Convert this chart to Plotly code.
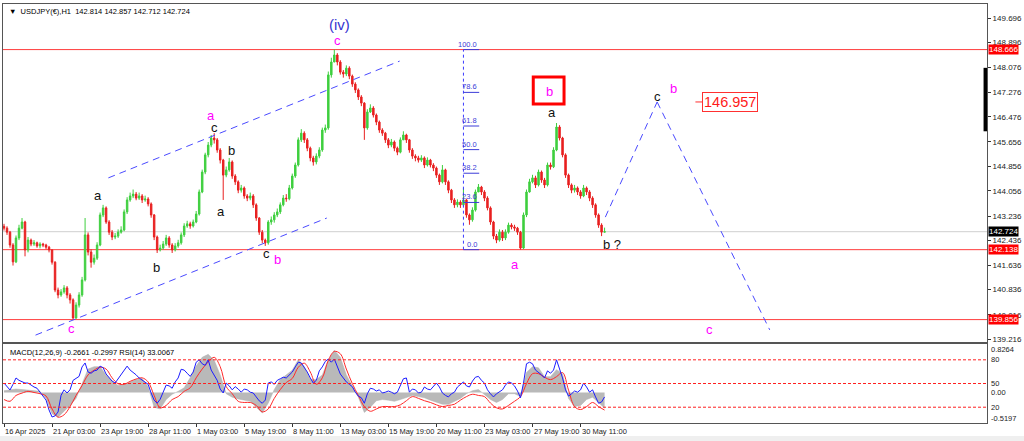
import plotly.graph_objects as go

# ---------------- data ----------------
bar_hours = list(range(0, 801, 4))          # hourly bar index of each plotted candle
first_open = 142.90
closes = [
    142.84, 142.71, 142.29, 141.74, 142.52, 142.84, 143.04, 142.13, 142.45, 142.32,
    142.36, 142.26, 142.32, 142.29, 142.22, 142.13, 141.73, 140.82, 140.66, 140.76,
    140.89, 140.66, 140.50, 139.91, 140.33, 140.66, 141.15, 142.62, 142.06, 141.73,
    141.86, 142.29, 143.27, 143.50, 143.04, 142.71, 142.55, 142.58, 142.71, 142.78,
    143.37, 143.76, 143.89, 143.95, 143.82, 143.89, 143.76, 143.79, 143.63, 143.27,
    142.55, 142.13, 142.19, 142.32, 142.52, 142.29, 142.13, 142.26, 142.36, 142.62,
    142.91, 142.98, 142.91, 143.04, 143.30, 144.02, 144.67, 145.23, 145.55, 145.78,
    145.72, 145.39, 145.06, 144.57, 144.74, 145.00, 144.54, 144.35, 144.08, 144.15,
    143.89, 143.82, 143.89, 143.60, 143.17, 142.71, 142.45, 142.36, 143.04, 143.11,
    143.27, 143.37, 143.60, 143.82, 143.80, 144.15, 144.54, 144.90, 145.72, 145.94,
    145.72, 145.45, 145.13, 145.00, 145.19, 145.39, 146.04, 146.11, 147.84, 148.26,
    148.49, 148.26, 147.93, 147.87, 148.06, 147.80, 147.54, 147.35, 147.12, 146.92,
    146.11, 146.63, 146.76, 146.53, 146.30, 146.04, 145.94, 145.72, 145.55, 145.65,
    145.45, 145.32, 145.72, 145.88, 145.72, 145.39, 145.19, 145.13, 145.06, 145.13,
    144.90, 145.06, 144.90, 144.80, 144.57, 144.35, 144.74, 144.35, 144.08, 143.76,
    143.60, 143.69, 143.60, 143.76, 143.27, 143.11, 143.43, 144.02, 144.18, 144.02,
    143.82, 143.50, 143.04, 142.58, 142.45, 142.71, 142.52, 142.71, 142.94, 142.88,
    142.84, 142.71, 142.19, 143.27, 144.02, 144.35, 144.48, 144.25, 144.67, 144.41,
    144.25, 144.90, 144.84, 145.39, 146.14, 145.78, 145.23, 144.57, 144.25, 144.08,
    144.15, 144.02, 143.89, 144.15, 144.02, 143.82, 143.60, 143.27, 142.94, 142.71,
    142.724,
]
highs = [
    142.98, 142.90, 142.75, 142.35, 142.60, 142.95, 143.17, 143.08, 142.55, 142.50,
    142.45, 142.40, 142.38, 142.36, 142.33, 142.26, 142.15, 141.76, 140.90, 140.85,
    140.98, 140.95, 140.72, 140.55, 140.42, 140.75, 141.25, 143.17, 142.70, 142.15,
    141.98, 142.38, 143.35, 143.60, 143.55, 143.10, 142.78, 142.68, 142.80, 142.90,
    143.45, 143.85, 144.00, 144.10, 144.02, 144.00, 143.95, 143.90, 143.85, 143.68,
    143.30, 142.60, 142.30, 142.42, 142.62, 142.58, 142.35, 142.35, 142.46, 142.70,
    143.00, 143.08, 143.05, 143.12, 143.40, 144.10, 144.75, 145.30, 145.65, 145.88,
    145.94, 145.78, 145.45, 145.10, 144.85, 145.13, 145.05, 144.60, 144.40, 144.25,
    144.20, 143.95, 144.00, 143.95, 143.65, 143.20, 142.78, 142.50, 143.10, 143.22,
    143.36, 143.48, 143.68, 143.92, 143.95, 144.25, 144.62, 144.98, 145.80, 146.07,
    146.00, 145.78, 145.50, 145.20, 145.28, 145.48, 146.12, 146.22, 147.95, 148.40,
    148.67, 148.55, 148.32, 148.00, 148.15, 148.12, 147.85, 147.60, 147.40, 147.18,
    146.95, 146.72, 146.88, 146.82, 146.58, 146.35, 146.10, 145.98, 145.78, 145.75,
    145.70, 145.50, 145.80, 146.00, 145.92, 145.75, 145.45, 145.25, 145.20, 145.22,
    145.18, 145.15, 145.10, 144.96, 144.85, 144.62, 144.90, 144.78, 144.40, 144.12,
    143.82, 143.78, 143.75, 144.14, 143.80, 143.32, 143.52, 144.10, 144.28, 144.22,
    144.08, 143.88, 143.55, 143.08, 142.65, 142.80, 142.78, 142.80, 143.02, 143.00,
    142.95, 142.88, 142.75, 143.35, 144.10, 144.45, 144.58, 144.55, 144.75, 144.72,
    144.48, 144.98, 144.98, 145.48, 146.27, 146.20, 145.82, 145.28, 144.62, 144.30,
    144.25, 144.20, 144.08, 144.25, 144.20, 144.08, 143.88, 143.65, 143.32, 143.00,
    142.857,
]
lows = [
    142.76, 142.62, 142.20, 141.62, 141.70, 142.45, 142.80, 141.92, 142.05, 142.25,
    142.26, 142.20, 142.18, 142.22, 142.15, 142.05, 141.65, 140.75, 140.55, 140.60,
    140.70, 140.55, 140.38, 139.86, 139.88, 140.25, 140.60, 141.10, 141.95, 141.55,
    141.65, 141.80, 142.25, 143.20, 142.98, 142.62, 142.45, 142.48, 142.52, 142.66,
    142.74, 143.30, 143.70, 143.82, 143.75, 143.76, 143.66, 143.70, 143.55, 143.18,
    142.45, 142.03, 142.08, 142.14, 142.26, 142.20, 142.03, 142.08, 142.20, 142.30,
    142.55, 142.85, 142.82, 142.86, 143.00, 143.25, 143.98, 144.60, 145.15, 145.48,
    145.60, 145.30, 144.95, 143.76, 144.50, 144.68, 144.45, 144.25, 143.98, 144.00,
    143.80, 143.72, 143.75, 143.50, 143.08, 142.62, 142.35, 142.26, 142.30, 142.95,
    143.02, 143.20, 143.30, 143.55, 143.70, 143.75, 144.10, 144.48, 144.85, 145.65,
    145.62, 145.35, 145.02, 144.88, 144.92, 145.12, 145.33, 145.95, 146.05, 147.75,
    148.35, 148.15, 147.85, 147.75, 147.80, 147.70, 147.45, 147.25, 147.02, 146.82,
    145.72, 146.05, 146.60, 146.45, 146.20, 145.95, 145.85, 145.62, 145.45, 145.48,
    145.35, 145.22, 145.28, 145.80, 145.62, 145.30, 145.10, 145.02, 144.98, 145.00,
    144.80, 144.85, 144.82, 144.70, 144.48, 144.25, 144.30, 144.25, 143.98, 143.66,
    143.50, 143.52, 143.50, 143.55, 143.18, 142.95, 143.05, 143.38, 144.05, 143.92,
    143.72, 143.42, 142.95, 142.48, 142.35, 142.40, 142.42, 142.45, 142.66, 142.80,
    142.75, 142.62, 142.14, 142.15, 143.20, 144.00, 144.30, 144.15, 144.20, 144.32,
    144.15, 144.20, 144.75, 144.80, 145.35, 145.70, 145.15, 144.48, 144.15, 143.98,
    144.00, 143.92, 143.80, 143.85, 143.92, 143.72, 143.50, 143.18, 142.85, 142.58,
    142.712,
]
opens = [first_open] + closes[:-1]

sub_bars = list(range(0, 801, 8))
macd_main = [
    0.03, 0.05, 0.06, 0.05, 0.04, 0.03, 0.02, -0.10, -0.36, -0.42,
    -0.32, -0.22, -0.10, 0.15, 0.40, 0.44, 0.44, 0.30, 0.20, 0.12,
    0.14, 0.18, 0.22, 0.24, 0.10, -0.25, -0.28, -0.12, -0.03, 0.02,
    0.08, 0.25, 0.45, 0.60, 0.65, 0.55, 0.30, -0.02, -0.08, -0.11,
    -0.13, -0.15, -0.25, -0.35, -0.18, 0.05, 0.22, 0.30, 0.38, 0.56,
    0.44, 0.22, 0.22, 0.30, 0.55, 0.72, 0.60, 0.30, 0.10, -0.08,
    -0.34, -0.25, -0.14, -0.12, -0.13, -0.15, -0.12, -0.08, -0.05, -0.07,
    -0.09, -0.13, -0.16, -0.20, -0.20, -0.15, -0.10, -0.02, 0.03, 0.05,
    -0.03, -0.12, -0.17, -0.12, -0.02, -0.02, -0.07, 0.34, 0.44, 0.42,
    0.27, 0.27, 0.39, 0.32, -0.10, -0.24, -0.22, -0.12, -0.08, -0.18,
    -0.2661,
]
macd_signal = [
    -0.12, -0.15, -0.05, -0.01, 0.02, 0.00, -0.02, -0.06, -0.28, -0.42,
    -0.38, -0.24, -0.05, 0.12, 0.30, 0.38, 0.43, 0.40, 0.25, 0.15,
    0.14, 0.19, 0.23, 0.25, 0.18, -0.05, -0.26, -0.22, -0.12, -0.07,
    0.02, 0.08, 0.25, 0.40, 0.52, 0.60, 0.44, 0.10, -0.02, -0.15,
    -0.17, -0.17, -0.22, -0.33, -0.28, -0.10, 0.05, 0.17, 0.24, 0.43,
    0.50, 0.35, 0.14, 0.25, 0.55, 0.70, 0.66, 0.40, 0.15, -0.05,
    -0.24, -0.32, -0.28, -0.24, -0.24, -0.24, -0.21, -0.14, -0.07, -0.10,
    -0.14, -0.17, -0.21, -0.24, -0.22, -0.20, -0.13, -0.07, -0.03, -0.05,
    -0.07, -0.18, -0.26, -0.28, -0.22, -0.15, -0.07, 0.15, 0.32, 0.32,
    0.26, 0.22, 0.27, 0.34, 0.04, -0.24, -0.29, -0.24, -0.17, -0.24,
    -0.2997,
]
rsi = [
    50.6, 46.8, 41.8, 49, 57, 54, 52, 50.6, 50.6, 48,
    45.6, 44, 39, 35, 29, 16.5, 7.6, 9, 14, 35,
    42, 38, 42, 54, 57, 59, 71, 76, 64.5, 63,
    66, 67, 72, 70, 62, 57, 53, 50.6, 56, 61,
    67, 72, 67, 64.5, 61, 57, 54, 52, 49, 38,
    29, 25, 30, 39, 48, 47, 44, 52, 57, 68,
    67, 63, 59, 64.5, 77, 80, 75, 73, 80, 67,
    61, 54, 43, 38, 50.6, 47, 42, 46, 43, 39,
    43, 42, 39, 38, 33, 28, 25, 29, 50.6, 52,
    49, 54, 56, 58, 57, 61, 64.5, 71, 77, 76,
    71, 64.5, 57, 50.6, 54, 66, 71, 78, 81, 77,
    81, 72, 62, 57, 52, 49, 46, 39, 34, 32,
    25, 37, 44, 43, 40.5, 42, 38, 39, 40.5, 39,
    37, 39, 48, 56, 57, 39, 43, 42, 38, 39,
    45.6, 43, 42, 47, 50.6, 45.6, 38, 35, 33, 37,
    39, 45.6, 49, 52, 47, 45.6, 53, 58, 59, 54,
    50.6, 42, 37, 33, 37, 39, 42, 48, 52, 50.6,
    47, 40.5, 32, 50.6, 75, 77, 75, 67, 64.5, 61,
    57, 66, 63, 67, 80, 69.6, 57, 42, 34, 37,
    40.5, 39, 42, 50.6, 45.6, 39, 42, 33, 25, 26.6,
    33.0067,
]

time_ticks = [0, 64, 128, 192, 256, 320, 384, 448, 512, 576, 640, 704, 768]
time_labels = ["16 Apr 2025", "21 Apr 03:00", "23 Apr 19:00", "28 Apr 11:00",
               "1 May 03:00", "5 May 19:00", "8 May 11:00", "13 May 03:00",
               "15 May 19:00", "20 May 11:00", "23 May 03:00", "27 May 19:00",
               "30 May 11:00"]

price_ticks = [149.696, 148.896, 148.076, 147.276, 146.476, 145.656, 144.856,
               144.056, 143.236, 142.436, 141.636, 140.836, 140.016, 139.216]
red_levels = [148.666, 142.138, 139.856]
last_price = 142.724

macd_labels = [0.8264, 0.0, -0.5197]
rsi_levels = [80, 50, 20]

fib_high, fib_low = 148.666, 142.138
fib_ratios = [100.0, 78.6, 61.8, 50.0, 38.2, 23.6, 0.0]
fib_bar = 612

channel_upper_x, channel_upper_y = [139, 527], [144.48, 148.29]
channel_lower_x, channel_lower_y = [42, 430], [139.35, 143.17]
projection_x, projection_y = [801, 870, 1020], [143.20, 146.957, 139.52]
target_price = 146.957
target_bar = 967

wave_text = ["(iv)", "c", "a", "c", "b", "a", "a", "b", "c", "b", "c",
             "a", "b", "a", "b ?", "c", "b", "c"]
wave_bar = [447, 444, 276, 280, 303, 125, 289.5, 203, 349, 364, 90,
            681, 726, 730, 810, 871, 892, 940]
wave_price = [149.47, 148.95, 146.50, 146.11, 145.36, 143.92, 143.37, 141.54,
              142.00, 141.83, 139.55, 141.64, 147.31, 146.60, 142.32, 147.15,
              147.41, 139.52]
wave_degree = ["iv", "m", "m", "k", "k", "k", "k", "k", "k", "m", "m",
               "m", "m", "k", "k", "k", "m", "m"]
boxed_bar_range = [705, 746]
boxed_price_range = [146.89, 147.77]

# ---------------- styling ----------------
FONT = "Liberation Sans, Arial, sans-serif"
MAG = "#ff00ff"
BLUE_DASH = "#4a4aff"
deg_style = {"iv": ("#3535d0", 15), "m": (MAG, 13), "k": ("#111111", 13)}

X_RANGE = [-1.33, 1309.4]
Y_RANGE = [139.125, 150.153]

fig = go.Figure()

fig.add_trace(go.Candlestick(
    x=bar_hours, open=opens, high=highs, low=lows, close=closes,
    increasing=dict(line=dict(color="#3fcf3f", width=1), fillcolor="#3fcf3f"),
    decreasing=dict(line=dict(color="#e82020", width=1), fillcolor="#e82020"),
    whiskerwidth=0, hoverinfo="skip", xaxis="x", yaxis="y", showlegend=False))

fig.add_trace(go.Scatter(x=sub_bars, y=macd_main, mode="lines", fill="tozeroy",
                         fillcolor="#b9b9b9", line=dict(color="#b0b0b0", width=0.5),
                         xaxis="x2", yaxis="y2", hoverinfo="skip", showlegend=False))
fig.add_trace(go.Scatter(x=sub_bars, y=macd_signal, mode="lines",
                         line=dict(color="#ff2a2a", width=1, shape="spline"),
                         xaxis="x2", yaxis="y2", hoverinfo="skip", showlegend=False))
fig.add_trace(go.Scatter(x=bar_hours, y=rsi, mode="lines",
                         line=dict(color="#1c1cff", width=1),
                         xaxis="x2", yaxis="y3", hoverinfo="skip", showlegend=False))

shapes = []
annotations = []

# horizontal levels
for lv in red_levels:
    shapes.append(dict(type="line", xref="paper", x0=0, x1=1, yref="y", y0=lv, y1=lv,
                       line=dict(color="#ff3c3c", width=1), layer="below"))
shapes.append(dict(type="line", xref="paper", x0=0, x1=1, yref="y", y0=last_price, y1=last_price,
                   line=dict(color="#cfcfcf", width=1), layer="below"))

# channel and projection
shapes.append(dict(type="line", xref="x", yref="y", x0=channel_upper_x[0], x1=channel_upper_x[1],
                   y0=channel_upper_y[0], y1=channel_upper_y[1],
                   line=dict(color=BLUE_DASH, width=1, dash="7px,5px")))
shapes.append(dict(type="line", xref="x", yref="y", x0=channel_lower_x[0], x1=channel_lower_x[1],
                   y0=channel_lower_y[0], y1=channel_lower_y[1],
                   line=dict(color=BLUE_DASH, width=1, dash="7px,5px")))
for k in range(len(projection_x) - 1):
    shapes.append(dict(type="line", xref="x", yref="y", x0=projection_x[k], x1=projection_x[k + 1],
                       y0=projection_y[k], y1=projection_y[k + 1],
                       line=dict(color=BLUE_DASH, width=1, dash="7px,5px")))

# fibonacci
shapes.append(dict(type="line", xref="x", yref="y", x0=fib_bar, x1=fib_bar, y0=fib_low, y1=fib_high,
                   line=dict(color="#3c3cff", width=1, dash="dot")))
for r in fib_ratios:
    lv = fib_low + (fib_high - fib_low) * r / 100.0
    shapes.append(dict(type="line", xref="x", yref="y", x0=fib_bar, x1=fib_bar + 21, y0=lv, y1=lv,
                       line=dict(color="#3c3cd8", width=1)))
    annotations.append(dict(x=fib_bar + 21, y=lv, xref="x", yref="y", text=f"{r:.1f}",
                            showarrow=False, xanchor="right", yanchor="bottom", yshift=-1,
                            font=dict(family=FONT, size=7.5, color="#3c3cd8")))

# wave labels
for t, bx, py, dg in zip(wave_text, wave_bar, wave_price, wave_degree):
    col, sz = deg_style[dg]
    annotations.append(dict(x=bx, y=py, xref="x", yref="y", text=t, showarrow=False,
                            font=dict(family=FONT, size=sz, color=col)))
shapes.append(dict(type="rect", xref="x", yref="y", x0=boxed_bar_range[0], x1=boxed_bar_range[1],
                   y0=boxed_price_range[0], y1=boxed_price_range[1],
                   line=dict(color="#ff0000", width=3)))

# target label
shapes.append(dict(type="line", xref="x", yref="y", x0=target_bar - 46, x1=target_bar - 37,
                   y0=target_price, y1=target_price, line=dict(color="#ff3030", width=1)))
annotations.append(dict(x=target_bar, y=target_price, xref="x", yref="y", text=f"{target_price:.3f}",
                        showarrow=False, bgcolor="#ffffff", bordercolor="#ff3030", borderwidth=1,
                        borderpad=1, font=dict(family=FONT, size=14.5, color="#ff1a1a")))

# right axis price boxes
for lv in red_levels:
    annotations.append(dict(x=1, y=lv, xref="paper", yref="y", text=f"{lv:.3f}", showarrow=False,
                            xanchor="left", xshift=1, bgcolor="#ff0000", borderpad=0,
                            font=dict(family=FONT, size=8, color="#ffffff")))
annotations.append(dict(x=1, y=last_price, xref="paper", yref="y", text=f"{last_price:.3f}",
                        showarrow=False, xanchor="left", xshift=1, bgcolor="#000000", borderpad=0,
                        font=dict(family=FONT, size=8, color="#ffffff")))
shapes.append(dict(type="rect", xref="paper", yref="y", x0=0.9965, x1=1.0, y0=146.0, y1=148.07,
                   fillcolor="#000000", line=dict(width=0)))

# headers
annotations.append(dict(x=0.004, y=1, xref="paper", yref="paper", yshift=-1,
                        text="\u25BC  USDJPY(\u20AC),H1  142.814 142.857 142.712 142.724",
                        showarrow=False, xanchor="left", yanchor="top",
                        font=dict(family=FONT, size=7.5, color="#000000")))
annotations.append(dict(x=0.005, y=0.8264, xref="paper", yref="y2", yshift=-2,
                        text="MACD(12,26,9) -0.2661 -0.2997 RSI(14) 33.0067",
                        showarrow=False, xanchor="left", yanchor="top",
                        font=dict(family=FONT, size=7.5, color="#000000")))

# sub-panel right labels
macd_shift = {0.8264: -5, 0.0: 0, -0.5197: 4}
for v in macd_labels:
    annotations.append(dict(x=1, y=v, xref="paper", yref="y2", text=f"{v:.4f}" if v != 0 else "0.00",
                            showarrow=False, xanchor="left", xshift=2, yshift=macd_shift[v],
                            font=dict(family=FONT, size=7.5, color="#222222")))
for v in rsi_levels:
    annotations.append(dict(x=1, y=v, xref="paper", yref="y3", text=str(v),
                            showarrow=False, xanchor="left", xshift=2,
                            font=dict(family=FONT, size=7.5, color="#222222")))
    shapes.append(dict(type="line", xref="paper", x0=0, x1=1, yref="y3", y0=v, y1=v,
                       line=dict(color="#ff2020", width=1, dash="3px,2px")))

# time labels
for tv, tl in zip(time_ticks, time_labels):
    annotations.append(dict(x=tv, y=0, xref="x2", yref="paper", text=tl, showarrow=False,
                            xanchor="left", yanchor="top", yshift=-2, xshift=-1,
                            font=dict(family=FONT, size=7.5, color="#222222")))

# bottom strip
shapes.append(dict(type="rect", xref="paper", yref="paper", x0=-0.01, x1=1.04, y0=-0.045, y1=-0.031,
                   fillcolor="#efefef", line=dict(width=0)))

axis_line = dict(showline=True, mirror=True, linecolor="#555555", linewidth=1,
                 showgrid=False, zeroline=False)

fig.update_layout(
    width=1024, height=441,
    margin=dict(l=2, r=35, t=4, b=18),
    paper_bgcolor="#ffffff", plot_bgcolor="#ffffff",
    showlegend=False,
    xaxis=dict(domain=[0, 1], range=X_RANGE, anchor="y", showticklabels=False, ticks="",
               rangeslider=dict(visible=False), **axis_line),
    yaxis=dict(domain=[0.1933, 1], range=Y_RANGE, anchor="x", side="right",
               tickvals=price_ticks, ticktext=[f"{p:.3f}" for p in price_ticks],
               ticks="outside", ticklen=3, tickcolor="#333333",
               tickfont=dict(family=FONT, size=8, color="#222222"), **axis_line),
    xaxis2=dict(domain=[0, 1], range=X_RANGE, anchor="y2", tickvals=time_ticks,
                showticklabels=False, ticks="outside", ticklen=3, tickcolor="#333333", **axis_line),
    yaxis2=dict(domain=[0, 0.1885], range=[-0.5197, 0.8264], anchor="x2", side="right",
                showticklabels=False, ticks="", **axis_line),
    yaxis3=dict(overlaying="y2", anchor="x2", range=[0, 100], side="right",
                showticklabels=False, showgrid=False, zeroline=False, showline=False),
    shapes=shapes, annotations=annotations,
)

fig.write_html("out.html", config={"displayModeBar": False},
               post_script="document.body.style.margin='0';document.body.style.padding='0';")
